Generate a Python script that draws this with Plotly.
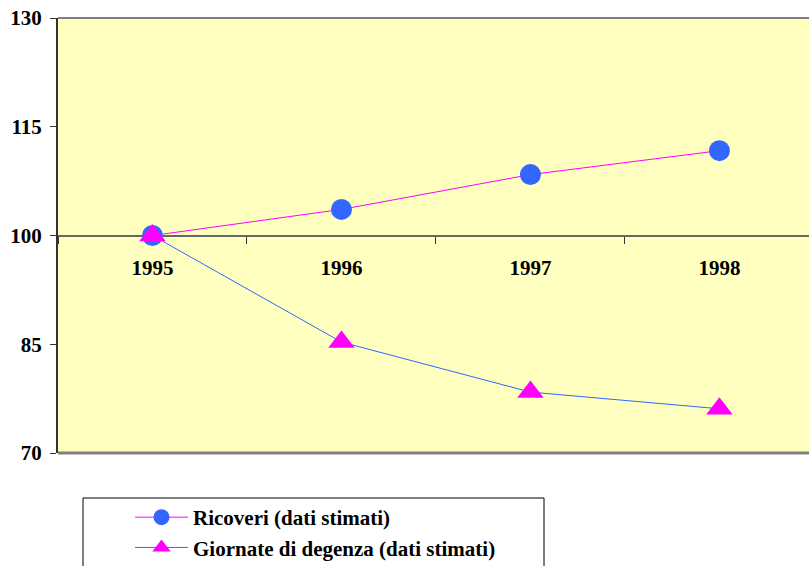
import plotly.graph_objects as go

years = ["1995", "1996", "1997", "1998"]
ricoveri = [100, 103.6, 108.4, 111.7]
giornate = [100, 85.3, 78.4, 76.1]
y_ticks = [70, 85, 100, 115, 130]

W, H = 809, 566
ml, mr, mt, mb = 58, 0, 18, 566 - 453
pw = W - ml - mr
ph = H - mt - mb

font_fam = "Liberation Serif"

def py(ypix):
    return (453 - ypix) / ph

def px(xpix):
    return (xpix - 58) / pw

fig = go.Figure()
fig.add_trace(go.Scatter(
    x=years, y=ricoveri, mode="lines+markers", name="<b>Ricoveri (dati stimati)</b>",
    line=dict(color="#FF00FF", width=1),
    marker=dict(symbol="circle", size=21, color="#3366FF"),
    legendgroup="a",
))
fig.add_trace(go.Scatter(
    x=years, y=giornate, mode="lines+markers", name="<b>Giornate di degenza (dati stimati)</b>",
    line=dict(color="#3366FF", width=1),
    marker=dict(symbol="triangle-up", size=23, color="#FF00FF"),
    legendgroup="b",
))

fig.add_shape(type="line", xref="paper", yref="paper", x0=0, x1=1, y0=1, y1=1,
              line=dict(color="#808080", width=2), layer="above")
fig.add_shape(type="line", xref="paper", yref="paper", x0=0, x1=1, y0=0, y1=0,
              line=dict(color="#808080", width=3), layer="above")
fig.add_shape(type="rect", xref="paper", yref="paper", x0=px(83), x1=px(544), y0=py(600), y1=py(498),
              line=dict(color="black", width=1), fillcolor="rgba(0,0,0,0)")

fig.update_layout(
    template="none",
    width=W, height=H, autosize=False,
    margin=dict(l=ml, r=mr, t=mt, b=mb, pad=0, autoexpand=False),
    paper_bgcolor="white",
    plot_bgcolor="#FFFFC0",
    font=dict(family=font_fam, size=21, color="black"),
    showlegend=True,
    legend=dict(
        x=px(130), y=py(497), xanchor="left", yanchor="top",
        bgcolor="rgba(0,0,0,0)", borderwidth=0,
        font=dict(family=font_fam, size=21, color="black"),
        itemwidth=53, tracegroupgap=0,
    ),
    xaxis=dict(
        type="category", range=[-0.5, 3.474],
        anchor="free", position=0.5, automargin=False,
        showline=True, linecolor="#666666", linewidth=2,
        ticks="outside", tickson="boundaries", ticklen=7, tickcolor="#333333", tickwidth=1,
        ticklabelstandoff=13,
        tickfont=dict(family=font_fam, size=21, color="black", weight="bold"),
        showgrid=False, zeroline=False, layer="below traces",
    ),
    yaxis=dict(
        range=[70, 130], tickvals=y_ticks, ticktext=["<b>%d</b>" % v for v in y_ticks],
        automargin=False, ticklabeloverflow="allow",
        showline=True, linecolor="#333333", linewidth=2,
        ticks="outside", ticklen=6, tickcolor="#333333", tickwidth=1,
        ticklabelstandoff=4,
        tickfont=dict(family=font_fam, size=21, color="black"),
        showgrid=False, zeroline=False,
    ),
)

fig.write_html("out.html", config={"displayModeBar": False},
               post_script="document.body.style.margin='0';document.documentElement.style.overflow='hidden';")
